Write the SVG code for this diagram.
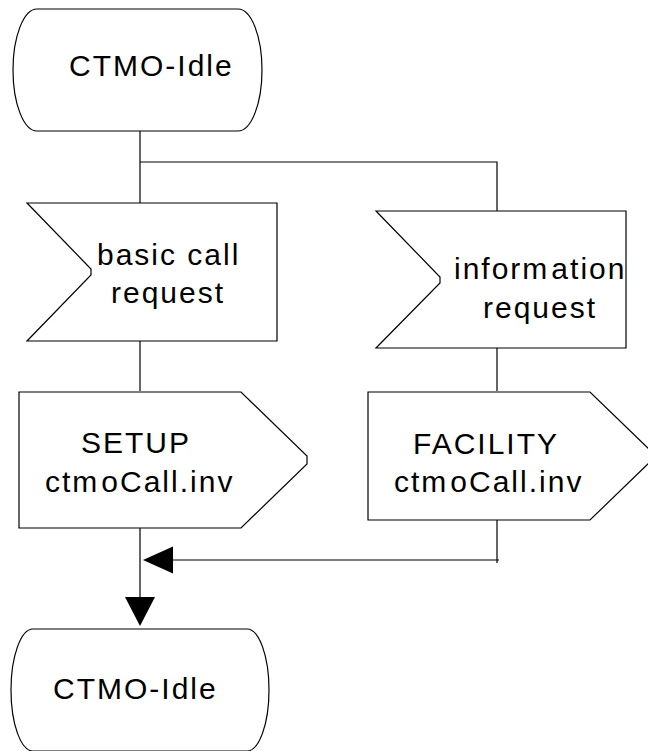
<svg xmlns="http://www.w3.org/2000/svg" width="648" height="751" viewBox="0 0 648 751">
<style>
.shape{fill:#fff;stroke:#000;stroke-width:1.2}
.line{fill:none;stroke:#000;stroke-width:1.2}
.head{fill:#000;stroke:none}
text{font-family:"Liberation Sans",Arial,sans-serif;font-size:30px;letter-spacing:2px;fill:#000}
</style>
<rect width="648" height="751" fill="#fff"/>
<g id="connectors">
<path class="line" d="M140 131V203M140 162H497V211M140 341V391M497 348V391M140 528V600M497 520V563M499 560H170"/>
<polygon class="head" points="143,560 173,546.5 173,573.5"/>
<polygon class="head" points="125,597 155,597 140,626"/>
</g>
<g id="state-top">
<path class="shape" d="M37 9H238A24 61 0 0 1 238 131H37A24 61 0 0 1 37 9Z"/>
<text x="69" y="76">CTMO-Idle</text>
</g>
<g id="input-basic-call">
<polygon class="shape" points="27,203 277,203 277,341 27,341 91,275 91,269"/>
<text x="97" y="265">basic call</text>
<text x="111" y="303">request</text>
</g>
<g id="input-information">
<polygon class="shape" points="376,211 626,211 626,348 376,348 440,283 440,277"/>
<text x="454" y="279">inform<tspan dx="2">ation</tspan></text>
<text x="483" y="318">request</text>
</g>
<g id="output-setup">
<polygon class="shape" points="19,392 241,392 307,456 307,464 241,528 19,528"/>
<text x="81" y="453">SETUP</text>
<text x="45" y="492" letter-spacing="1.6">ctm<tspan dx="2">oCall.inv</tspan></text>
</g>
<g id="output-facility">
<polygon class="shape" points="368,392 590,392 652,452 652,460 590,520 368,520"/>
<text x="413" y="454">FACILITY</text>
<text x="394" y="492" letter-spacing="1.6">ctm<tspan dx="2">oCall.inv</tspan></text>
</g>
<g id="state-bottom">
<path class="shape" d="M33 629H247A22 61 0 0 1 247 751H33A22 61 0 0 1 33 629Z"/>
<text x="53" y="699">CTMO-Idle</text>
</g>
</svg>
